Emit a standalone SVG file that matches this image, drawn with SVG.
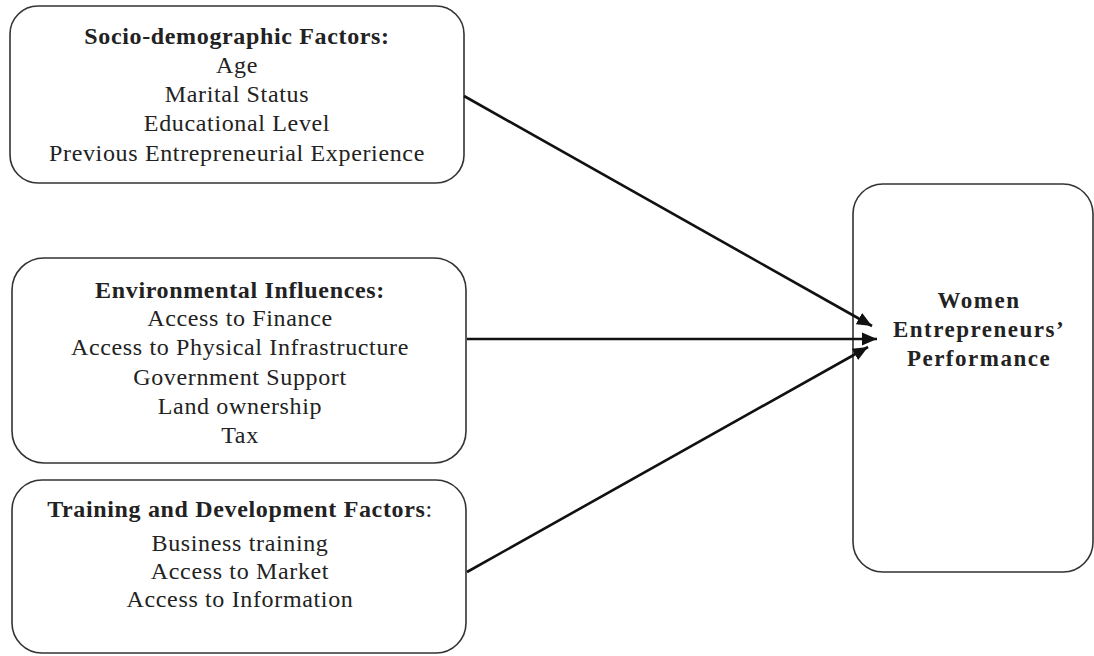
<svg xmlns="http://www.w3.org/2000/svg" width="1094" height="656" viewBox="0 0 1094 656">
<style>
.box{fill:#fff;stroke:#333;stroke-width:1.6}
.t{font-family:"Liberation Serif","Times New Roman",serif;font-size:24px;fill:#222;text-anchor:middle;letter-spacing:0.65px}
.b{font-weight:bold}
.w{font-family:"Liberation Serif","Times New Roman",serif;font-size:23px;font-weight:bold;fill:#222;text-anchor:middle;letter-spacing:1.5px}
.c{stroke:#111;stroke-width:2.6;fill:none;marker-end:url(#ah)}
</style>
<defs>
<marker id="ah" markerUnits="userSpaceOnUse" markerWidth="16" markerHeight="14" refX="15" refY="7" orient="auto">
<path d="M0,0.5 L15,7 L0,13.5 z" fill="#111"/>
</marker>
</defs>
<rect width="1094" height="656" fill="#fff"/>
<g id="socio">
<rect class="box" x="10" y="6" width="454" height="177" rx="28"/>
<text class="t b" x="237" y="44">Socio-demographic Factors:</text>
<text class="t" x="237" y="73">Age</text>
<text class="t" x="237" y="102">Marital Status</text>
<text class="t" x="237" y="131">Educational Level</text>
<text class="t" x="237" y="161">Previous Entrepreneurial Experience</text>
</g>
<g id="environmental">
<rect class="box" x="12" y="258" width="454" height="205" rx="32"/>
<text class="t b" x="240" y="298">Environmental Influences:</text>
<text class="t" x="240" y="326">Access to Finance</text>
<text class="t" x="240" y="355">Access to Physical Infrastructure</text>
<text class="t" x="240" y="385">Government Support</text>
<text class="t" x="240" y="414">Land ownership</text>
<text class="t" x="240" y="443">Tax</text>
</g>
<g id="training">
<rect class="box" x="12" y="480" width="454" height="173" rx="30"/>
<text class="t" x="240" y="517"><tspan class="b">Training and Development Factors</tspan>:</text>
<text class="t" x="240" y="551">Business training</text>
<text class="t" x="240" y="579">Access to Market</text>
<text class="t" x="240" y="607">Access to Information</text>
</g>
<g id="performance">
<rect class="box" x="853" y="184" width="240" height="388" rx="30"/>
<text class="w" x="979" y="308">Women</text>
<text class="w" x="979" y="337">Entrepreneurs’</text>
<text class="w" x="979" y="366">Performance</text>
</g>
<g id="connectors">
<line class="c" x1="464" y1="96" x2="872" y2="326"/>
<line class="c" x1="467" y1="339" x2="877" y2="339"/>
<line class="c" x1="467" y1="572" x2="868" y2="347"/>
</g>
</svg>
